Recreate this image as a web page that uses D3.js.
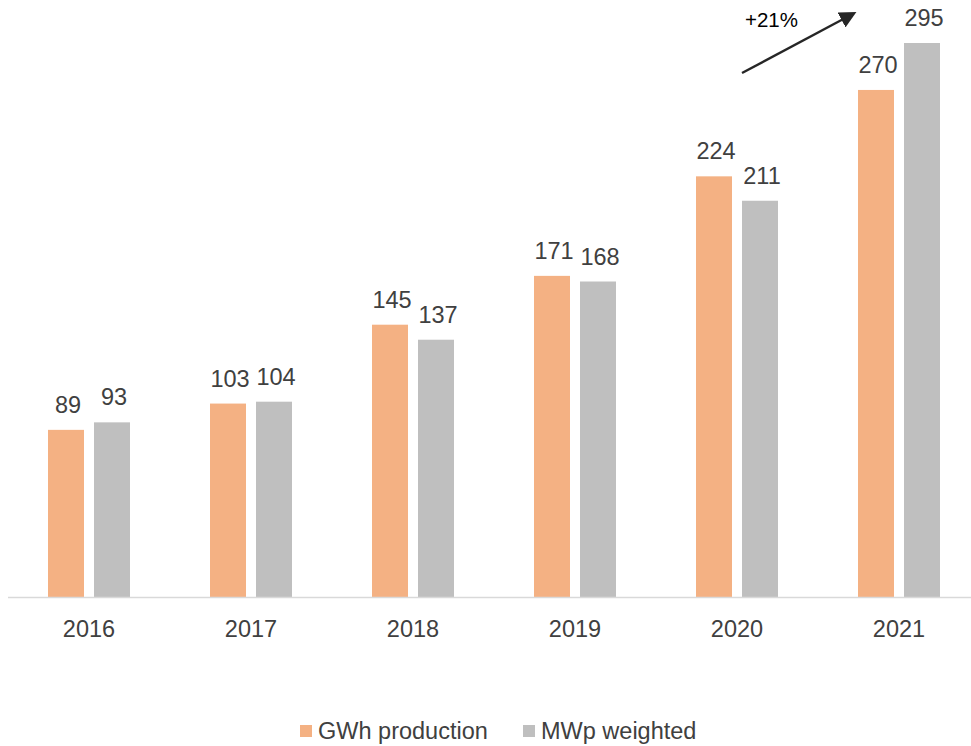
<!DOCTYPE html>
<html>
<head>
<meta charset="utf-8">
<script src="https://cdn.jsdelivr.net/npm/d3@7"></script>
<style>
  html, body { margin: 0; padding: 0; background: #fff; }
  svg { display: block; }
  text { font-family: "Liberation Sans", Arial, sans-serif; fill: #404040; }
</style>
</head>
<body>
<svg id="chart" width="971" height="746"></svg>
<script>
// Yearly production vs. weighted capacity
const years = ["2016", "2017", "2018", "2019", "2020", "2021"];
const gwhProduction = [89, 103, 145, 171, 224, 270];
const mwpWeighted = [93, 104, 137, 168, 211, 295];
const seriesNames = ["GWh production", "MWp weighted"];
const seriesColors = ["#F4B183", "#BFBFBF"];
const growthLabel = "+21%";

const svg = d3.select("#chart");
const W = 971;
const baseY = 597;

const x = d3.scaleBand().domain(years).range([8, 980]).padding(0);
const barW = 36, gap = 10;
const sub = d3.scaleOrdinal().domain(seriesNames).range([-(gap / 2 + barW), gap / 2]);
const y = d3.scaleLinear().domain([0, 295]).range([baseY, 43]);

const rows = years.map((yr, i) => ({
  year: yr,
  values: [
    { name: seriesNames[0], v: gwhProduction[i] },
    { name: seriesNames[1], v: mwpWeighted[i] }
  ]
}));

const groups = svg.append("g").selectAll("g")
  .data(rows).join("g")
  .attr("transform", d => `translate(${x(d.year) + x.bandwidth() / 2},0)`);

groups.selectAll("rect")
  .data(d => d.values).join("rect")
  .attr("x", d => sub(d.name))
  .attr("y", d => y(d.v))
  .attr("width", barW)
  .attr("height", d => baseY - y(d.v))
  .attr("fill", (d, i) => seriesColors[i]);

groups.selectAll("text.val")
  .data(d => d.values).join("text")
  .attr("class", "val")
  .attr("x", d => sub(d.name) + barW / 2 + 2)
  .attr("y", d => y(d.v) - 17)
  .attr("text-anchor", "middle")
  .style("font-size", "23.5px")
  .text(d => d.v);

// category axis
const axis = svg.append("g").attr("transform", `translate(0,${baseY})`)
  .call(d3.axisBottom(x).tickSize(0).tickPadding(0));
axis.select(".domain").remove();
axis.selectAll("text")
  .attr("y", 40)
  .attr("dy", 0)
  .style("font-size", "23.5px")
  .style("font-family", "'Liberation Sans', Arial, sans-serif")
  .style("fill", "#404040");
svg.append("line")
  .attr("x1", 8).attr("x2", W).attr("y1", baseY + 0.5).attr("y2", baseY + 0.5)
  .attr("stroke", "#D9D9D9").attr("stroke-width", 1.5);

// growth arrow
svg.append("defs").append("marker")
  .attr("id", "arrowHead")
  .attr("viewBox", "0 0 10 10")
  .attr("refX", 5).attr("refY", 5)
  .attr("markerWidth", 7).attr("markerHeight", 7)
  .attr("markerUnits", "strokeWidth")
  .attr("orient", "auto")
  .append("path").attr("d", "M0,0 L10,5 L0,10 Z").attr("fill", "#262626");

svg.append("line")
  .attr("x1", 742).attr("y1", 73).attr("x2", 849).attr("y2", 16)
  .attr("stroke", "#262626").attr("stroke-width", 2.4)
  .attr("marker-end", "url(#arrowHead)");

svg.append("text")
  .attr("x", 745).attr("y", 27)
  .style("font-size", "20.5px")
  .style("fill", "#000")
  .text(growthLabel);

// legend
const legendItems = [
  { name: seriesNames[0], color: seriesColors[0], x: 300 },
  { name: seriesNames[1], color: seriesColors[1], x: 523 }
];
const legend = svg.append("g").selectAll("g")
  .data(legendItems).join("g")
  .attr("transform", d => `translate(${d.x},725)`);
legend.append("rect").attr("width", 12).attr("height", 12).attr("fill", d => d.color);
legend.append("text")
  .attr("x", 18).attr("y", 14)
  .style("font-size", "23.5px")
  .text(d => d.name);
</script>
</body>
</html>
